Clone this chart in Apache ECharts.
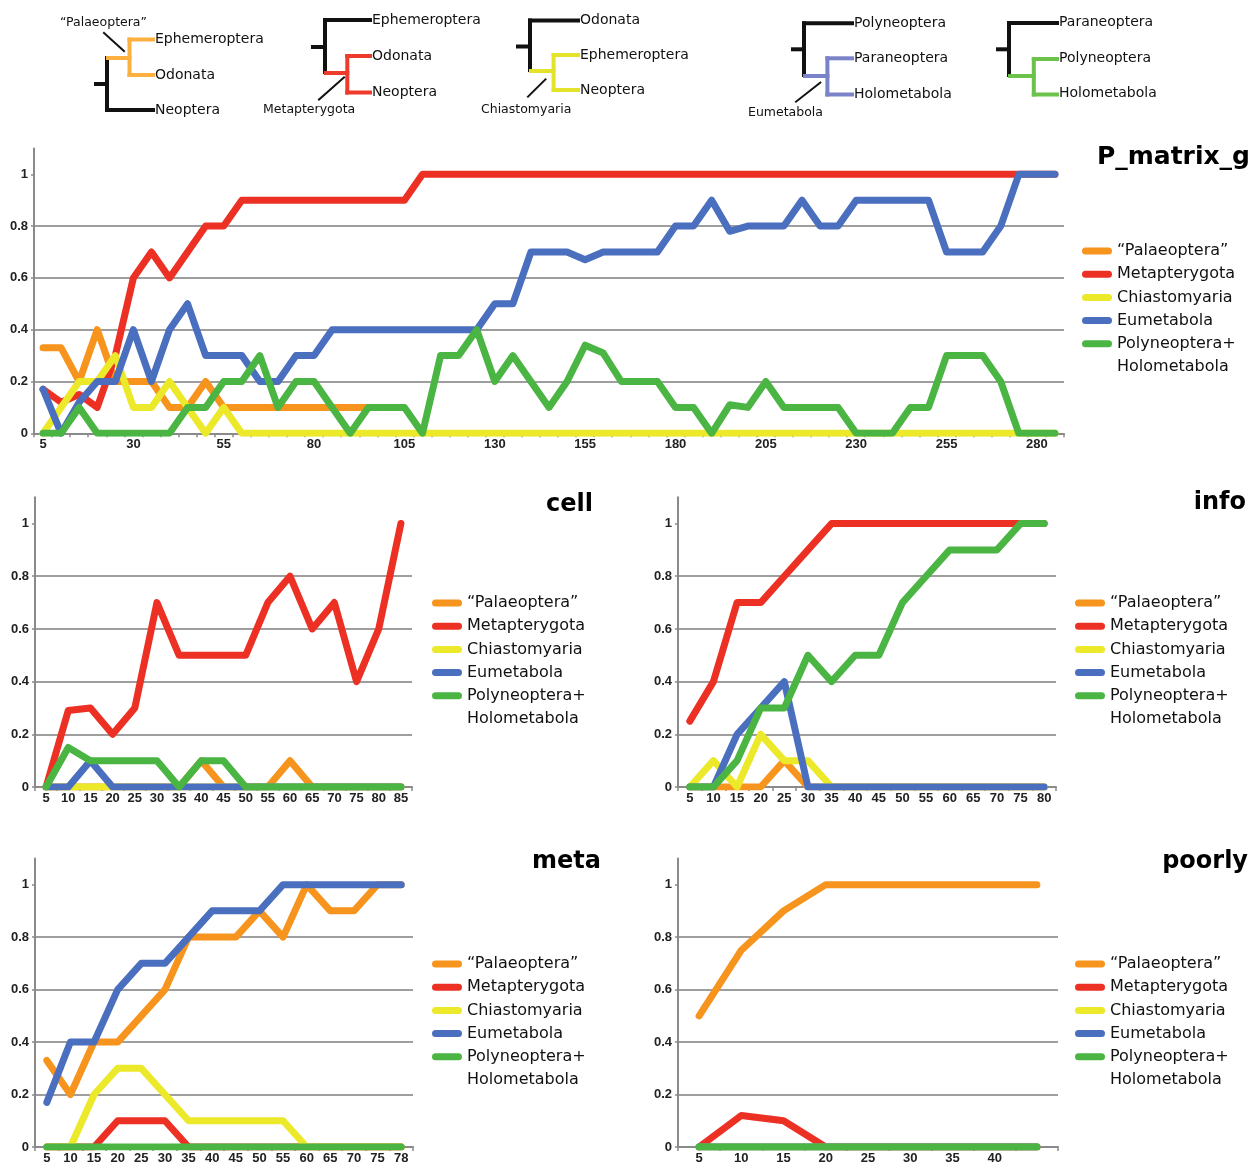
<!DOCTYPE html>
<html>
<head>
<meta charset="utf-8">
<script src="https://cdn.jsdelivr.net/npm/echarts@6/dist/echarts.min.js"></script>
<style>html,body{margin:0;padding:0;background:#fff}#c{width:1258px;height:1165px}</style>
</head>
<body>
<div id="c"></div>
<script>
// ---------- names & colours ----------
const seriesNames = ['\u201cPalaeoptera\u201d', 'Metapterygota', 'Chiastomyaria', 'Eumetabola', 'Polyneoptera+ Holometabola'];
const seriesColors = ['#F7941E', '#ED3024', '#ECE82A', '#4A6FBF', '#4AB543'];

// ---------- P_matrix_g ----------
const pmCats = ['5','10','15','20','25','30','35','40','45','50','55','60','65','70','75','80','85','90','95','100','105','110','115','120','125','130','135','140','145','150','155','160','165','170','175','180','185','190','195','200','205','210','215','220','225','230','235','240','245','250','255','260','265','270','275','280','285'];
const pmPalaeoptera = [0.33,0.33,0.2,0.4,0.2,0.2,0.2,0.1,0.1,0.2, 0.1,0.1,0.1,0.1,0.1,0.1,0.1,0.1,0.1,null, null,null,null,null,null,null,null,null,null,null, null,null,null,null,null,null,null,null,null,null, null,null,null,null,null,null,null,null,null,null, null,null,null,null,null,null,null];
const pmMetapterygota = [0.17,0.12,0.15,0.1,0.3,0.6,0.7,0.6,0.7,0.8, 0.8,0.9,0.9,0.9,0.9,0.9,0.9,0.9,0.9,0.9, 0.9,1,1,1,1,1,1,1,1,1, 1,1,1,1,1,1,1,1,1,1, 1,1,1,1,1,1,1,1,1,1, 1,1,1,1,1,1,1];
const pmChiastomyaria = [0,0.1,0.2,0.2,0.3,0.1,0.1,0.2,0.1,0, 0.1,0,0,0,0,0,0,0,0,0, 0,0,0,0,0,0,0,0,0,0, 0,0,0,0,0,0,0,0,0,0, 0,0,0,0,0,0,0,0,0,0, 0,0,0,0,0,0,0];
const pmEumetabola = [0.17,0,0.12,0.2,0.2,0.4,0.2,0.4,0.5,0.3, 0.3,0.3,0.2,0.2,0.3,0.3,0.4,0.4,0.4,0.4, 0.4,0.4,0.4,0.4,0.4,0.5,0.5,0.7,0.7,0.7, 0.67,0.7,0.7,0.7,0.7,0.8,0.8,0.9,0.78,0.8, 0.8,0.8,0.9,0.8,0.8,0.9,0.9,0.9,0.9,0.9, 0.7,0.7,0.7,0.8,1,1,1];
const pmPolyHolo = [0,0,0.1,0,0,0,0,0,0.1,0.1, 0.2,0.2,0.3,0.1,0.2,0.2,0.1,0,0.1,0.1, 0.1,0,0.3,0.3,0.4,0.2,0.3,0.2,0.1,0.2, 0.34,0.31,0.2,0.2,0.2,0.1,0.1,0,0.11,0.1, 0.2,0.1,0.1,0.1,0.1,0,0,0,0.1,0.1, 0.3,0.3,0.3,0.2,0,0,0];

// ---------- cell ----------
const cellCats = ['5','10','15','20','25','30','35','40','45','50','55','60','65','70','75','80','85'];
const cellPalaeoptera = [0,0,0,0,0,0,0,0.1,0,0,0,0.1,0,0,0,0,0];
const cellMetapterygota = [0,0.29,0.3,0.2,0.3,0.7,0.5,0.5,0.5,0.5,0.7,0.8,0.6,0.7,0.4,0.6,1];
const cellChiastomyaria = [0,0,0,0,0,0,0,0,0,0,0,0,0,0,0,0,0];
const cellEumetabola = [0,0,0.1,0,0,0,0,0,0,0,0,0,0,0,0,0,0];
const cellPolyHolo = [0,0.15,0.1,0.1,0.1,0.1,0,0.1,0.1,0,0,0,0,0,0,0,0];

// ---------- info ----------
const infoCats = ['5','10','15','20','25','30','35','40','45','50','55','60','65','70','75','80'];
const infoPalaeoptera = [0,0,0,0,0.1,0,0,0,0,0,0,0,0,0,0,0];
const infoMetapterygota = [0.25,0.4,0.7,0.7,0.8,0.9,1,1,1,1,1,1,1,1,1,1];
const infoChiastomyaria = [0,0.1,0,0.2,0.1,0.1,0,0,0,0,0,0,0,0,0,0];
const infoEumetabola = [0,0,0.2,0.3,0.4,0,0,0,0,0,0,0,0,0,0,0];
const infoPolyHolo = [0,0,0.1,0.3,0.3,0.5,0.4,0.5,0.5,0.7,0.8,0.9,0.9,0.9,1,1];

// ---------- meta ----------
const metaCats = ['5','10','15','20','25','30','35','40','45','50','55','60','65','70','75','78'];
const metaPalaeoptera = [0.33,0.2,0.4,0.4,0.5,0.6,0.8,0.8,0.8,0.9,0.8,1,0.9,0.9,1,1];
const metaMetapterygota = [0,0,0,0.1,0.1,0.1,0,0,0,0,0,0,0,0,0,0];
const metaChiastomyaria = [0,0,0.2,0.3,0.3,0.2,0.1,0.1,0.1,0.1,0.1,0,0,0,0,0];
const metaEumetabola = [0.17,0.4,0.4,0.6,0.7,0.7,0.8,0.9,0.9,0.9,1,1,1,1,1,1];
const metaPolyHolo = [0,0,0,0,0,0,0,0,0,0,0,0,0,0,0,0];

// ---------- poorly ----------
const poorlyCats = ['5','10','15','20','25','30','35','40','45'];
const poorlyPalaeoptera = [0.5,0.75,0.9,1,1,1,1,1,1];
const poorlyMetapterygota = [0,0.12,0.1,0,0,0,0,0,0];
const poorlyChiastomyaria = [0,0,0,0,0,0,0,0,0];
const poorlyEumetabola = [0,0,0,0,0,0,0,0,0];
const poorlyPolyHolo = [0,0,0,0,0,0,0,0,0];

// ---------- layout ----------
const FONT = '"DejaVu Sans", Verdana, sans-serif';
const AXFONT = '"Liberation Sans", Arial, sans-serif';
const panels = [
  { title: 'P_matrix_g', cats: pmCats, values: [pmPalaeoptera, pmMetapterygota, pmChiastomyaria, pmEumetabola, pmPolyHolo],
    grid: { left: 34, top: 148.4, width: 1030, height: 284.9 }, labelEvery: 4, legend: { left: 1082, top: 242 }, titleAt: [1250, 157], titleSize: 25 },
  { title: 'cell', cats: cellCats, values: [cellPalaeoptera, cellMetapterygota, cellChiastomyaria, cellEumetabola, cellPolyHolo],
    grid: { left: 35, top: 497.2, width: 377, height: 289.8 }, labelEvery: 0, legend: { left: 432, top: 594 }, titleAt: [593, 505], titleSize: 24 },
  { title: 'info', cats: infoCats, values: [infoPalaeoptera, infoMetapterygota, infoChiastomyaria, infoEumetabola, infoPolyHolo],
    grid: { left: 678, top: 497.2, width: 378, height: 289.8 }, labelEvery: 0, legend: { left: 1075, top: 594 }, titleAt: [1246, 503], titleSize: 24 },
  { title: 'meta', cats: metaCats, values: [metaPalaeoptera, metaMetapterygota, metaChiastomyaria, metaEumetabola, metaPolyHolo],
    grid: { left: 35, top: 858.4, width: 378, height: 288.9 }, labelEvery: 0, legend: { left: 432, top: 955 }, titleAt: [601, 862], titleSize: 24 },
  { title: 'poorly', cats: poorlyCats, values: [poorlyPalaeoptera, poorlyMetapterygota, poorlyChiastomyaria, poorlyEumetabola, poorlyPolyHolo],
    grid: { left: 678, top: 858.4, width: 380, height: 288.9 }, labelEvery: 0, hideLastLabel: true, legend: { left: 1075, top: 955 }, titleAt: [1248, 862], titleSize: 24 }
];
const yTickValues = [0, 0.2, 0.4, 0.6, 0.8, 1];

const grids = [], xAxes = [], yAxes = [], series = [], legends = [], graphics = [];
const LEG_STEP = 23.2, LEG_LH = 18;

panels.forEach((p, i) => {
  grids.push(Object.assign({ containLabel: false }, p.grid));
  xAxes.push({
    type: 'category', gridIndex: i, data: p.cats, boundaryGap: true,
    axisLine: { show: true, lineStyle: { color: '#8a8a8a', width: 2 } },
    axisTick: { show: true, interval: 0, length: 4, lineStyle: { color: '#8a8a8a', width: 1.5 } },
    axisLabel: { interval: p.labelEvery, fontSize: 13, fontWeight: 'bold', color: '#222', fontFamily: AXFONT, margin: 5,
      formatter: (v, idx) => (p.hideLastLabel && idx === p.cats.length - 1) ? '' : v },
    splitLine: { show: false }
  });
  yAxes.push({
    type: 'value', gridIndex: i, min: 0, max: 1.1, interval: 0.2,
    axisLine: { show: true, lineStyle: { color: '#8a8a8a', width: 2 } },
    axisTick: { show: true, length: 3, customValues: yTickValues, lineStyle: { color: '#8a8a8a', width: 1.5 } },
    axisLabel: { showMaxLabel: false, fontSize: 13, fontWeight: 'bold', color: '#222', fontFamily: AXFONT, margin: 6 },
    splitLine: { show: true, showMaxLine: false, lineStyle: { color: '#9e9e9e', width: 2 } }
  });
  p.values.forEach((vals, k) => {
    series.push({
      type: 'line', name: seriesNames[k], xAxisIndex: i, yAxisIndex: i, data: vals,
      symbol: 'none', showSymbol: false, connectNulls: false, silent: true,
      lineStyle: { color: seriesColors[k], width: 7, cap: 'round', join: 'round' },
      itemStyle: { color: seriesColors[k] },
      emphasis: { disabled: true }
    });
  });
  legends.push({
    orient: 'vertical', left: p.legend.left, top: p.legend.top, padding: 0,
    itemGap: LEG_STEP - LEG_LH, itemWidth: 30, itemHeight: 7,
    icon: 'path://M3.5,0 H26.5 A3.5,3.5 0 0 1 26.5,7 H3.5 A3.5,3.5 0 0 1 3.5,0 Z',
    data: seriesNames, selectedMode: false,
    itemStyle: { borderWidth: 0 },
    formatter: name => name === 'Polyneoptera+ Holometabola' ? 'Polyneoptera+' : name,
    textStyle: { fontSize: 16, fontFamily: FONT, color: '#111', lineHeight: LEG_LH }
  });
  // second line of the last legend entry
  graphics.push({ type: 'text', x: p.legend.left + 35, y: p.legend.top + LEG_LH / 2 + 5 * LEG_STEP,
    style: { text: 'Holometabola', font: '16px ' + FONT, fill: '#111', align: 'left', verticalAlign: 'middle', textAlign: 'left', textVerticalAlign: 'middle' } });
  // panel title
  graphics.push({ type: 'text', x: p.titleAt[0], y: p.titleAt[1],
    style: { text: p.title, font: 'bold ' + p.titleSize + 'px ' + FONT, fill: '#000', align: 'right', verticalAlign: 'middle', textAlign: 'right', textVerticalAlign: 'middle' } });
});

// ---------- cladogram key (schematic drawing) ----------
const BLACK = '#111';
function seg(x1, y1, x2, y2, color, w) {
  return { type: 'line', shape: { x1, y1, x2, y2 }, style: { stroke: color, lineWidth: w || 4, lineCap: 'square' }, silent: true };
}
function txt(s, x, y, size) {
  return { type: 'text', x, y, silent: true,
    style: { text: s, font: (size || 14) + 'px ' + FONT, fill: '#111', align: 'left', verticalAlign: 'middle', textAlign: 'left', textVerticalAlign: 'middle' } };
}
const treeOrange = '#FBB040', treeRed = '#EF3B2C', treeYellow = '#E4E22B', treeBlue = '#7A82C8', treeGreen = '#6CC24A';
const trees = [
  // 1: "Palaeoptera"
  seg(107, 58, 107, 110, BLACK), seg(96, 84, 107, 84, BLACK), seg(107, 110, 153, 110, BLACK),
  seg(108, 58, 129.5, 58, treeOrange), seg(129.5, 39.5, 129.5, 75, treeOrange),
  seg(129.5, 39.5, 153, 39.5, treeOrange), seg(129.5, 75, 153, 75, treeOrange),
  seg(104, 33, 124, 51, BLACK, 2),
  txt('\u201cPalaeoptera\u201d', 60, 23, 12.5), txt('Ephemeroptera', 155, 39), txt('Odonata', 155, 75), txt('Neoptera', 155, 110.5),
  // 2: Metapterygota
  seg(325, 20, 370, 20, BLACK), seg(325, 20, 325, 72, BLACK), seg(313, 47, 325, 47, BLACK),
  seg(326, 73, 347.3, 73, treeRed), seg(347.3, 56, 347.3, 92.5, treeRed),
  seg(347.3, 56, 370, 56, treeRed), seg(347.3, 92.5, 370, 92.5, treeRed),
  seg(319, 99.5, 344, 77.5, BLACK, 2),
  txt('Ephemeroptera', 372, 20), txt('Odonata', 372, 56), txt('Neoptera', 372, 92.5), txt('Metapterygota', 263, 110, 12.5),
  // 3: Chiastomyaria
  seg(530, 20.5, 578, 20.5, BLACK), seg(530, 20.5, 530, 70, BLACK), seg(518, 46.5, 530, 46.5, BLACK),
  seg(531, 71, 553.6, 71, treeYellow), seg(553.6, 55, 553.6, 90, treeYellow),
  seg(553.6, 55, 578, 55, treeYellow), seg(553.6, 90, 578, 90, treeYellow),
  seg(528, 96.7, 545.5, 79.3, BLACK, 2),
  txt('Odonata', 580, 20), txt('Ephemeroptera', 580, 55), txt('Neoptera', 580, 90.5), txt('Chiastomyaria', 481, 110, 12.5),
  // 4: Eumetabola
  seg(804, 23.3, 852, 23.3, BLACK), seg(804, 23.3, 804, 75, BLACK), seg(793, 49.3, 804, 49.3, BLACK),
  seg(805, 76, 827.4, 76, treeBlue), seg(827.4, 58.3, 827.4, 94.5, treeBlue),
  seg(827.4, 58.3, 852, 58.3, treeBlue), seg(827.4, 94.5, 852, 94.5, treeBlue),
  seg(796, 101.7, 820.3, 82.7, BLACK, 2),
  txt('Polyneoptera', 854, 23), txt('Paraneoptera', 854, 58), txt('Holometabola', 854, 94), txt('Eumetabola', 748, 113, 12.5),
  // 5: Polyneoptera + Holometabola
  seg(1009, 23, 1057, 23, BLACK), seg(1009, 23, 1009, 75, BLACK), seg(998, 49.3, 1009, 49.3, BLACK),
  seg(1010, 76, 1033.8, 76, treeGreen), seg(1033.8, 59, 1033.8, 94.5, treeGreen),
  seg(1033.8, 59, 1057, 59, treeGreen), seg(1033.8, 94.5, 1057, 94.5, treeGreen),
  txt('Paraneoptera', 1059, 22), txt('Polyneoptera', 1059, 58), txt('Holometabola', 1059, 93)
];

const chart = echarts.init(document.getElementById('c'), null, { renderer: 'canvas' });
chart.setOption({
  backgroundColor: '#ffffff',
  animation: false,
  textStyle: { fontFamily: FONT },
  grid: grids,
  xAxis: xAxes,
  yAxis: yAxes,
  legend: legends,
  series: series,
  graphic: { elements: trees.concat(graphics) }
});
</script>
</body>
</html>
